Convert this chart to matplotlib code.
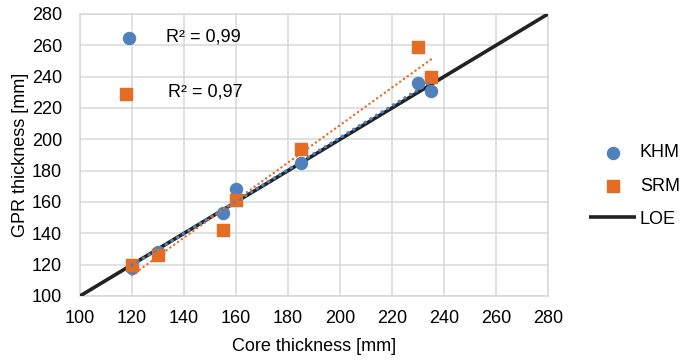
import numpy as np
import matplotlib
matplotlib.use("Agg")
import matplotlib.pyplot as plt

plt.rcParams['font.family'] = ['Liberation Sans', 'DejaVu Sans']

# core vs GPR thickness
khm_core = [120, 130, 155, 160, 185, 230, 235]
khm_gpr = [118, 128, 153, 168, 185, 236, 231]
srm_core = [120, 130, 155, 160, 185, 230, 235]
srm_gpr = [120, 126, 142, 161, 194, 259, 240]
loe = [100, 280]

r2_labels = ["R² = 0,99", "R² = 0,97"]
blue = '#4f81bd'
orange = '#e46c24'
grid_col = '#d9d9d9'

fig = plt.figure(figsize=(6.82, 3.6), dpi=100)
ax = fig.add_axes([80/682, 1 - 296/360, 468/682, 282/360])

ax.plot(loe, loe, color='#222222', lw=2.6, solid_capstyle='butt', zorder=3, label='LOE')
ax.scatter(khm_core, khm_gpr, s=75, color=blue, marker='o', zorder=4, label='KHM')
ax.scatter(srm_core, srm_gpr, s=65, color=orange, marker='s', zorder=4, label='SRM')

# linear trendlines (dotted, like excel)
for xs, ys, c, w in [(khm_core, khm_gpr, blue, 2.4), (srm_core, srm_gpr, orange, 1.7)]:
    k, b = np.polyfit(xs, ys, 1)
    xx = np.array([min(xs), max(xs)])
    ax.plot(xx, k * xx + b, color=c, lw=w, ls=(0, (0.1, 1.9)),
            dash_capstyle='round', zorder=5)

# trendline labels with marker
ax.scatter([119], [265], s=75, color=blue, marker='o', zorder=4)
ax.text(133, 265, r2_labels[0], fontsize=13, va='center')
ax.scatter([117.5], [229], s=65, color=orange, marker='s', zorder=4)
ax.text(134, 230, r2_labels[1], fontsize=13, va='center')

ax.set_xlim(100, 280)
ax.set_ylim(100, 280)
ax.set_xticks(range(100, 281, 20))
ax.set_yticks(range(100, 281, 20))
ax.grid(True, color=grid_col, lw=1.1)
ax.set_axisbelow(True)
for s in ax.spines.values():
    s.set_color(grid_col)
    s.set_linewidth(1.1)
ax.tick_params(length=0, labelsize=13)
ax.tick_params(axis='x', pad=10)
ax.tick_params(axis='y', pad=13)
ax.set_xlabel('Core thickness [mm]', fontsize=13, labelpad=8)
ax.set_ylabel('GPR thickness [mm]', fontsize=13, labelpad=2)

h, l = ax.get_legend_handles_labels()
order = [1, 2, 0]
fig.legend([h[i] for i in order], [l[i] for i in order], loc='center left',
           bbox_to_anchor=(573/682, 1 - 186/360), frameon=False, fontsize=13,
           handlelength=2.6, handletextpad=0.2, labelspacing=0.9)

fig.savefig('out.png', dpi=100)
